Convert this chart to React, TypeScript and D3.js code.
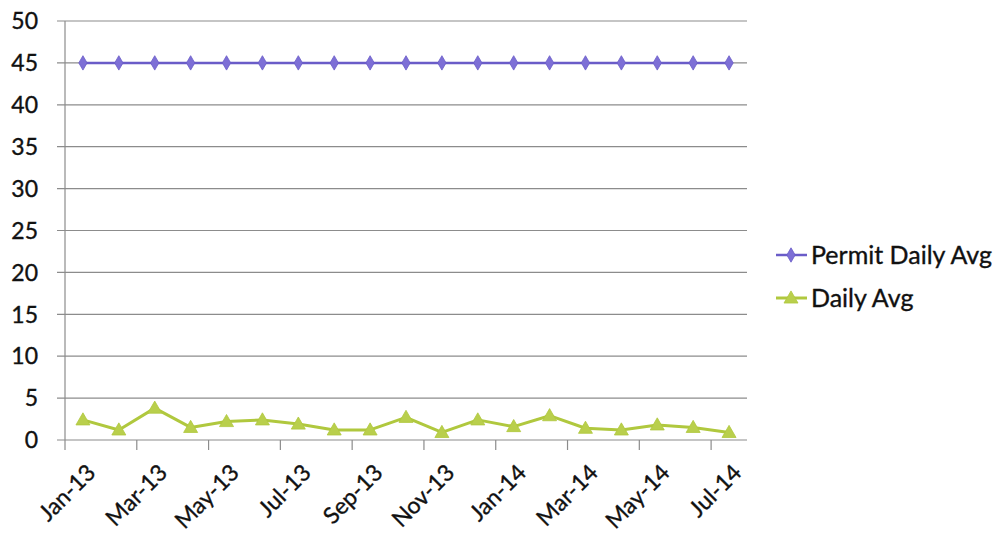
import React from "react";
import * as d3 from "d3";

const months = [
  "Jan-13", "Feb-13", "Mar-13", "Apr-13", "May-13", "Jun-13", "Jul-13", "Aug-13",
  "Sep-13", "Oct-13", "Nov-13", "Dec-13", "Jan-14", "Feb-14", "Mar-14", "Apr-14",
  "May-14", "Jun-14", "Jul-14",
];
const permitDailyAvg = [45, 45, 45, 45, 45, 45, 45, 45, 45, 45, 45, 45, 45, 45, 45, 45, 45, 45, 45];
const dailyAvg = [2.4, 1.2, 3.8, 1.5, 2.2, 2.4, 1.9, 1.2, 1.2, 2.7, 0.9, 2.4, 1.6, 2.9, 1.4, 1.2, 1.8, 1.5, 0.9];
const yTicks = [0, 5, 10, 15, 20, 25, 30, 35, 40, 45, 50];
const seriesNames = ["Permit Daily Avg", "Daily Avg"];

const W = 1002;
const H = 540;
const plot = { left: 65, right: 747, top: 21, bottom: 440 };
const FONT = "Lato, 'Open Sans', sans-serif";
const INK = "#111";
const PURPLE = "#6a5cc8";
const PURPLE_M = "#7d6fd6";
const GREEN = "#b0c83e";
const GREEN_M = "#b9cf4c";
const GRID = "#8c8c8c";

export default function App() {
  const x = d3.scaleBand<string>().domain(months).range([plot.left, plot.right]);
  const y = d3.scaleLinear().domain([0, 50]).range([plot.bottom, plot.top]);
  const cx = (m: string) => (x(m) as number) + x.bandwidth() / 2;

  const line = d3
    .line<number>()
    .x((_, i) => cx(months[i]))
    .y((v) => y(v));

  const diamond = d3.symbol(d3.symbolDiamond, 60)() as string;
  const triangle = d3.symbol(d3.symbolTriangle, 85)() as string;

  // tick marks sit on category boundaries, every second month
  const tickBounds = d3.range(0, months.length + 1, 2).map((i) =>
    i < months.length ? (x(months[i]) as number) : plot.right
  );

  const textStyle = { fontFamily: FONT, fill: INK, stroke: INK, strokeWidth: 0.35 };

  return (
    <svg width={W} height={H} style={{ position: "absolute", left: 0, top: 0, background: "#fff" }}>
      {/* horizontal gridlines and y labels */}
      {yTicks.map((t) => (
        <g key={t}>
          <line x1={plot.left - 8} x2={plot.right} y1={y(t)} y2={y(t)} stroke={GRID} strokeWidth={1.2} />
          <text x={38} y={y(t)} dy="0.36em" textAnchor="end" fontSize={23} {...textStyle}>
            {t}
          </text>
        </g>
      ))}
      {/* y axis */}
      <line x1={plot.left} x2={plot.left} y1={plot.top} y2={plot.bottom} stroke={GRID} strokeWidth={1.2} />
      {/* x tick marks */}
      {tickBounds.map((bx, i) => (
        <line key={i} x1={bx} x2={bx} y1={plot.bottom} y2={plot.bottom + 10} stroke={GRID} strokeWidth={1.2} />
      ))}
      {/* x labels */}
      {months.map((m, i) =>
        i % 2 === 0 ? (
          <text
            key={m}
            transform={`translate(${cx(m) + 14},${plot.bottom + 34}) rotate(-45)`}
            textAnchor="end"
            fontSize={23}
            {...textStyle}
          >
            {m}
          </text>
        ) : null
      )}
      {/* Permit Daily Avg */}
      <path d={line(permitDailyAvg) as string} fill="none" stroke={PURPLE} strokeWidth={2.5} />
      {permitDailyAvg.map((v, i) => (
        <path key={i} d={diamond} transform={`translate(${cx(months[i])},${y(v)})`} fill={PURPLE_M} stroke={PURPLE} strokeWidth={0.8} />
      ))}
      {/* Daily Avg */}
      <path d={line(dailyAvg) as string} fill="none" stroke={GREEN} strokeWidth={3} strokeLinejoin="round" />
      {dailyAvg.map((v, i) => (
        <path key={i} d={triangle} transform={`translate(${cx(months[i])},${y(v) + 1})`} fill={GREEN_M} stroke={GREEN} strokeWidth={0.8} />
      ))}
      {/* legend */}
      {seriesNames.map((name, i) => {
        const ly = 255 + i * 43;
        const isPermit = i === 0;
        return (
          <g key={name}>
            <line x1={776} x2={807} y1={ly} y2={ly} stroke={isPermit ? PURPLE : GREEN} strokeWidth={isPermit ? 2.5 : 3} />
            <path
              d={isPermit ? diamond : triangle}
              transform={`translate(791,${ly + (isPermit ? 0 : 1)})`}
              fill={isPermit ? PURPLE_M : GREEN_M}
              stroke={isPermit ? PURPLE : GREEN}
              strokeWidth={0.8}
            />
            <text x={811} y={ly} dy="0.36em" fontSize={25} {...textStyle}>
              {name}
            </text>
          </g>
        );
      })}
    </svg>
  );
}
